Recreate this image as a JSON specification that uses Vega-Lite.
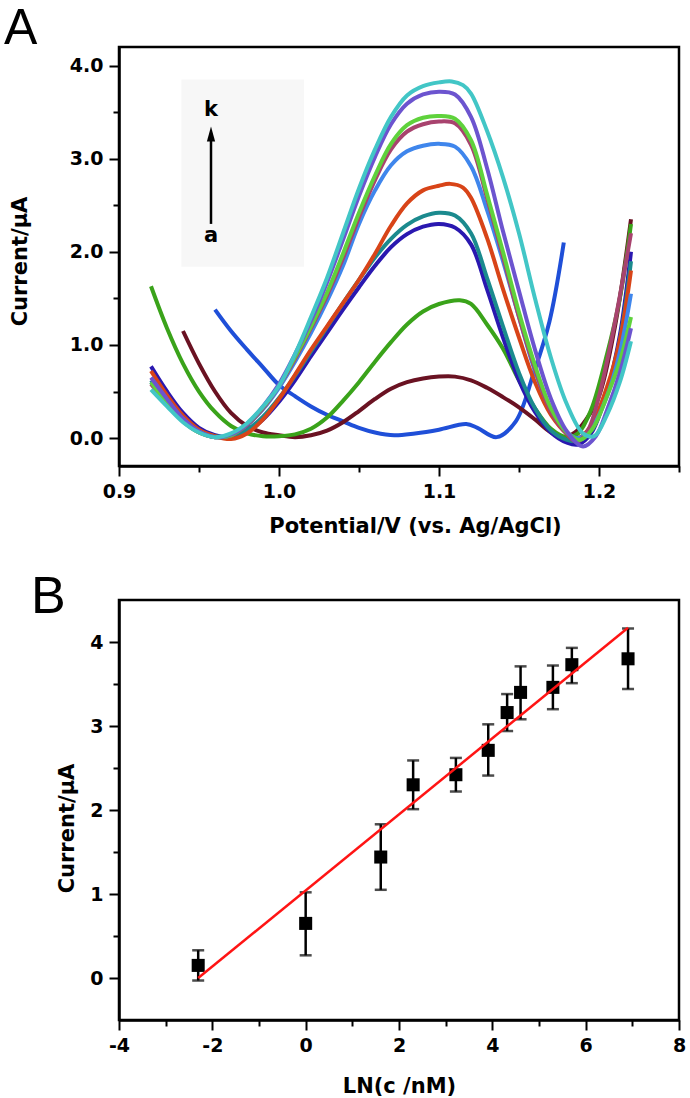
{
  "$schema": "https://vega.github.io/schema/vega-lite/v6.json",
  "background": "white",
  "padding": {"left": 2, "top": 2, "right": 5, "bottom": 5},
  "bounds": "flush",
  "spacing": 134,
  "config": {
    "view": {"stroke": "black", "strokeWidth": 2.5},
    "axis": {
      "domainColor": "black", "domainWidth": 2.5, "tickColor": "black", "tickWidth": 2,
      "labelColor": "black", "titleColor": "black", "labelFont": "DejaVu Sans", "titleFont": "DejaVu Sans",
      "labelFontWeight": "bold", "titleFontWeight": "bold", "labelFontSize": 19, "titleFontSize": 21,
      "grid": false, "labelFlush": false, "labelOverlap": false, "labelBound": false
    }
  },
  "datasets": {
    "curves": [
      {"curve":"a","E":0.96,"I":1.38},{"curve":"a","E":0.97,"I":1.15},{"curve":"a","E":0.98,"I":0.95},{"curve":"a","E":0.99,"I":0.76},{"curve":"a","E":1.0,"I":0.57},{"curve":"a","E":1.01,"I":0.45},{"curve":"a","E":1.02,"I":0.34},{"curve":"a","E":1.03,"I":0.25},{"curve":"a","E":1.04,"I":0.18},{"curve":"a","E":1.05,"I":0.11},{"curve":"a","E":1.06,"I":0.06},{"curve":"a","E":1.072,"I":0.03},{"curve":"a","E":1.085,"I":0.05},{"curve":"a","E":1.1,"I":0.09},{"curve":"a","E":1.117,"I":0.15},{"curve":"a","E":1.124,"I":0.11},{"curve":"a","E":1.136,"I":0.01},{"curve":"a","E":1.148,"I":0.18},{"curve":"a","E":1.159,"I":0.69},{"curve":"a","E":1.169,"I":1.25},{"curve":"a","E":1.178,"I":2.1},
      {"curve":"b","E":0.94,"I":1.15},{"curve":"b","E":0.95,"I":0.8},{"curve":"b","E":0.96,"I":0.5},{"curve":"b","E":0.97,"I":0.27},{"curve":"b","E":0.98,"I":0.13},{"curve":"b","E":0.99,"I":0.06},{"curve":"b","E":1.0,"I":0.03},{"curve":"b","E":1.01,"I":0.01},{"curve":"b","E":1.02,"I":0.03},{"curve":"b","E":1.03,"I":0.08},{"curve":"b","E":1.04,"I":0.17},{"curve":"b","E":1.05,"I":0.29},{"curve":"b","E":1.06,"I":0.42},{"curve":"b","E":1.07,"I":0.53},{"curve":"b","E":1.08,"I":0.6},{"curve":"b","E":1.09,"I":0.64},{"curve":"b","E":1.1,"I":0.66},{"curve":"b","E":1.11,"I":0.66},{"curve":"b","E":1.12,"I":0.62},{"curve":"b","E":1.13,"I":0.54},{"curve":"b","E":1.14,"I":0.44},{"curve":"b","E":1.15,"I":0.33},{"curve":"b","E":1.16,"I":0.2},{"curve":"b","E":1.17,"I":0.06},{"curve":"b","E":1.177,"I":0.01},{"curve":"b","E":1.185,"I":0.06},{"curve":"b","E":1.192,"I":0.2},{"curve":"b","E":1.2,"I":0.45},{"curve":"b","E":1.21,"I":1.2},{"curve":"b","E":1.22,"I":2.35},
      {"curve":"c","E":0.92,"I":1.63},{"curve":"c","E":0.93,"I":1.18},{"curve":"c","E":0.94,"I":0.8},{"curve":"c","E":0.95,"I":0.5},{"curve":"c","E":0.96,"I":0.28},{"curve":"c","E":0.97,"I":0.13},{"curve":"c","E":0.98,"I":0.05},{"curve":"c","E":0.99,"I":0.02},{"curve":"c","E":1.0,"I":0.02},{"curve":"c","E":1.01,"I":0.04},{"curve":"c","E":1.02,"I":0.1},{"curve":"c","E":1.03,"I":0.22},{"curve":"c","E":1.04,"I":0.4},{"curve":"c","E":1.05,"I":0.6},{"curve":"c","E":1.06,"I":0.82},{"curve":"c","E":1.07,"I":1.03},{"curve":"c","E":1.08,"I":1.22},{"curve":"c","E":1.09,"I":1.36},{"curve":"c","E":1.1,"I":1.44},{"curve":"c","E":1.113,"I":1.48},{"curve":"c","E":1.12,"I":1.44},{"curve":"c","E":1.13,"I":1.22},{"curve":"c","E":1.14,"I":0.96},{"curve":"c","E":1.15,"I":0.62},{"curve":"c","E":1.16,"I":0.32},{"curve":"c","E":1.17,"I":0.1},{"curve":"c","E":1.18,"I":0.01},{"curve":"c","E":1.187,"I":0.05},{"curve":"c","E":1.195,"I":0.3},{"curve":"c","E":1.205,"I":0.9},{"curve":"c","E":1.213,"I":1.5},{"curve":"c","E":1.22,"I":2.3},
      {"curve":"d","E":0.92,"I":0.77},{"curve":"d","E":0.93,"I":0.5},{"curve":"d","E":0.94,"I":0.27},{"curve":"d","E":0.95,"I":0.11},{"curve":"d","E":0.96,"I":0.03},{"curve":"d","E":0.97,"I":0.01},{"curve":"d","E":0.98,"I":0.07},{"curve":"d","E":0.99,"I":0.2},{"curve":"d","E":1.0,"I":0.39},{"curve":"d","E":1.01,"I":0.62},{"curve":"d","E":1.02,"I":0.88},{"curve":"d","E":1.03,"I":1.13},{"curve":"d","E":1.04,"I":1.38},{"curve":"d","E":1.05,"I":1.62},{"curve":"d","E":1.06,"I":1.85},{"curve":"d","E":1.07,"I":2.05},{"curve":"d","E":1.08,"I":2.19},{"curve":"d","E":1.09,"I":2.27},{"curve":"d","E":1.1,"I":2.3},{"curve":"d","E":1.11,"I":2.26},{"curve":"d","E":1.12,"I":2.08},{"curve":"d","E":1.13,"I":1.6},{"curve":"d","E":1.14,"I":1.08},{"curve":"d","E":1.15,"I":0.62},{"curve":"d","E":1.16,"I":0.28},{"curve":"d","E":1.17,"I":0.06},{"curve":"d","E":1.18,"I":-0.05},{"curve":"d","E":1.187,"I":-0.07},{"curve":"d","E":1.195,"I":0.05},{"curve":"d","E":1.205,"I":0.5},{"curve":"d","E":1.213,"I":1.1},{"curve":"d","E":1.22,"I":2.0},
      {"curve":"e","E":0.92,"I":0.62},{"curve":"e","E":0.93,"I":0.4},{"curve":"e","E":0.94,"I":0.21},{"curve":"e","E":0.95,"I":0.08},{"curve":"e","E":0.96,"I":0.02},{"curve":"e","E":0.97,"I":0.02},{"curve":"e","E":0.98,"I":0.09},{"curve":"e","E":0.99,"I":0.23},{"curve":"e","E":1.0,"I":0.43},{"curve":"e","E":1.01,"I":0.67},{"curve":"e","E":1.02,"I":0.93},{"curve":"e","E":1.03,"I":1.19},{"curve":"e","E":1.04,"I":1.45},{"curve":"e","E":1.05,"I":1.7},{"curve":"e","E":1.06,"I":1.94},{"curve":"e","E":1.07,"I":2.14},{"curve":"e","E":1.08,"I":2.29},{"curve":"e","E":1.09,"I":2.38},{"curve":"e","E":1.1,"I":2.42},{"curve":"e","E":1.11,"I":2.39},{"curve":"e","E":1.12,"I":2.2},{"curve":"e","E":1.13,"I":1.72},{"curve":"e","E":1.14,"I":1.2},{"curve":"e","E":1.15,"I":0.7},{"curve":"e","E":1.16,"I":0.32},{"curve":"e","E":1.17,"I":0.08},{"curve":"e","E":1.18,"I":-0.02},{"curve":"e","E":1.187,"I":-0.03},{"curve":"e","E":1.195,"I":0.1},{"curve":"e","E":1.205,"I":0.5},{"curve":"e","E":1.213,"I":1.05},{"curve":"e","E":1.22,"I":1.9},
      {"curve":"f","E":0.92,"I":0.72},{"curve":"f","E":0.93,"I":0.46},{"curve":"f","E":0.94,"I":0.24},{"curve":"f","E":0.95,"I":0.09},{"curve":"f","E":0.96,"I":0.02},{"curve":"f","E":0.97,"I":-0.01},{"curve":"f","E":0.98,"I":0.05},{"curve":"f","E":0.99,"I":0.2},{"curve":"f","E":1.0,"I":0.42},{"curve":"f","E":1.01,"I":0.68},{"curve":"f","E":1.02,"I":0.95},{"curve":"f","E":1.03,"I":1.2},{"curve":"f","E":1.04,"I":1.45},{"curve":"f","E":1.05,"I":1.7},{"curve":"f","E":1.06,"I":1.98},{"curve":"f","E":1.07,"I":2.28},{"curve":"f","E":1.08,"I":2.52},{"curve":"f","E":1.09,"I":2.66},{"curve":"f","E":1.1,"I":2.71},{"curve":"f","E":1.107,"I":2.73},{"curve":"f","E":1.115,"I":2.69},{"curve":"f","E":1.12,"I":2.58},{"curve":"f","E":1.13,"I":2.15},{"curve":"f","E":1.14,"I":1.6},{"curve":"f","E":1.15,"I":1.08},{"curve":"f","E":1.16,"I":0.6},{"curve":"f","E":1.17,"I":0.25},{"curve":"f","E":1.18,"I":0.05},{"curve":"f","E":1.187,"I":0.0},{"curve":"f","E":1.195,"I":0.13},{"curve":"f","E":1.205,"I":0.55},{"curve":"f","E":1.213,"I":1.05},{"curve":"f","E":1.22,"I":1.8},
      {"curve":"g","E":0.92,"I":0.6},{"curve":"g","E":0.93,"I":0.38},{"curve":"g","E":0.94,"I":0.19},{"curve":"g","E":0.95,"I":0.07},{"curve":"g","E":0.96,"I":0.01},{"curve":"g","E":0.97,"I":0.03},{"curve":"g","E":0.98,"I":0.14},{"curve":"g","E":0.99,"I":0.31},{"curve":"g","E":1.0,"I":0.54},{"curve":"g","E":1.01,"I":0.82},{"curve":"g","E":1.02,"I":1.13},{"curve":"g","E":1.03,"I":1.47},{"curve":"g","E":1.04,"I":1.85},{"curve":"g","E":1.05,"I":2.3},{"curve":"g","E":1.06,"I":2.66},{"curve":"g","E":1.07,"I":2.93},{"curve":"g","E":1.08,"I":3.08},{"curve":"g","E":1.09,"I":3.14},{"curve":"g","E":1.1,"I":3.16},{"curve":"g","E":1.11,"I":3.13},{"curve":"g","E":1.12,"I":2.92},{"curve":"g","E":1.13,"I":2.45},{"curve":"g","E":1.14,"I":1.9},{"curve":"g","E":1.15,"I":1.3},{"curve":"g","E":1.16,"I":0.72},{"curve":"g","E":1.17,"I":0.3},{"curve":"g","E":1.18,"I":0.06},{"curve":"g","E":1.187,"I":0.0},{"curve":"g","E":1.195,"I":0.1},{"curve":"g","E":1.205,"I":0.45},{"curve":"g","E":1.213,"I":0.92},{"curve":"g","E":1.22,"I":1.55},
      {"curve":"h","E":0.92,"I":0.58},{"curve":"h","E":0.93,"I":0.37},{"curve":"h","E":0.94,"I":0.18},{"curve":"h","E":0.95,"I":0.06},{"curve":"h","E":0.96,"I":0.01},{"curve":"h","E":0.97,"I":0.03},{"curve":"h","E":0.98,"I":0.14},{"curve":"h","E":0.99,"I":0.32},{"curve":"h","E":1.0,"I":0.56},{"curve":"h","E":1.01,"I":0.85},{"curve":"h","E":1.02,"I":1.18},{"curve":"h","E":1.03,"I":1.53},{"curve":"h","E":1.04,"I":1.93},{"curve":"h","E":1.05,"I":2.37},{"curve":"h","E":1.06,"I":2.77},{"curve":"h","E":1.07,"I":3.1},{"curve":"h","E":1.08,"I":3.29},{"curve":"h","E":1.09,"I":3.37},{"curve":"h","E":1.1,"I":3.4},{"curve":"h","E":1.11,"I":3.38},{"curve":"h","E":1.12,"I":3.15},{"curve":"h","E":1.13,"I":2.58},{"curve":"h","E":1.14,"I":1.95},{"curve":"h","E":1.15,"I":1.3},{"curve":"h","E":1.16,"I":0.74},{"curve":"h","E":1.17,"I":0.28},{"curve":"h","E":1.18,"I":0.04},{"curve":"h","E":1.186,"I":-0.04},{"curve":"h","E":1.193,"I":0.08},{"curve":"h","E":1.2,"I":0.45},{"curve":"h","E":1.21,"I":1.25},{"curve":"h","E":1.22,"I":2.2},
      {"curve":"i","E":0.92,"I":0.6},{"curve":"i","E":0.93,"I":0.38},{"curve":"i","E":0.94,"I":0.18},{"curve":"i","E":0.95,"I":0.06},{"curve":"i","E":0.96,"I":0.01},{"curve":"i","E":0.97,"I":0.03},{"curve":"i","E":0.98,"I":0.15},{"curve":"i","E":0.99,"I":0.33},{"curve":"i","E":1.0,"I":0.57},{"curve":"i","E":1.01,"I":0.87},{"curve":"i","E":1.02,"I":1.2},{"curve":"i","E":1.03,"I":1.56},{"curve":"i","E":1.04,"I":1.98},{"curve":"i","E":1.05,"I":2.42},{"curve":"i","E":1.06,"I":2.82},{"curve":"i","E":1.07,"I":3.16},{"curve":"i","E":1.08,"I":3.36},{"curve":"i","E":1.09,"I":3.44},{"curve":"i","E":1.1,"I":3.46},{"curve":"i","E":1.11,"I":3.43},{"curve":"i","E":1.12,"I":3.2},{"curve":"i","E":1.13,"I":2.62},{"curve":"i","E":1.14,"I":2.0},{"curve":"i","E":1.15,"I":1.35},{"curve":"i","E":1.16,"I":0.78},{"curve":"i","E":1.17,"I":0.32},{"curve":"i","E":1.18,"I":0.06},{"curve":"i","E":1.188,"I":-0.02},{"curve":"i","E":1.196,"I":0.1},{"curve":"i","E":1.205,"I":0.45},{"curve":"i","E":1.213,"I":0.82},{"curve":"i","E":1.22,"I":1.3},
      {"curve":"j","E":0.92,"I":0.65},{"curve":"j","E":0.93,"I":0.42},{"curve":"j","E":0.94,"I":0.21},{"curve":"j","E":0.95,"I":0.07},{"curve":"j","E":0.96,"I":0.01},{"curve":"j","E":0.97,"I":0.04},{"curve":"j","E":0.98,"I":0.15},{"curve":"j","E":0.99,"I":0.34},{"curve":"j","E":1.0,"I":0.58},{"curve":"j","E":1.01,"I":0.9},{"curve":"j","E":1.02,"I":1.26},{"curve":"j","E":1.03,"I":1.67},{"curve":"j","E":1.04,"I":2.13},{"curve":"j","E":1.05,"I":2.6},{"curve":"j","E":1.06,"I":3.02},{"curve":"j","E":1.07,"I":3.37},{"curve":"j","E":1.08,"I":3.59},{"curve":"j","E":1.09,"I":3.69},{"curve":"j","E":1.1,"I":3.72},{"curve":"j","E":1.11,"I":3.69},{"curve":"j","E":1.12,"I":3.45},{"curve":"j","E":1.13,"I":2.9},{"curve":"j","E":1.14,"I":2.22},{"curve":"j","E":1.15,"I":1.58},{"curve":"j","E":1.16,"I":0.95},{"curve":"j","E":1.17,"I":0.42},{"curve":"j","E":1.18,"I":0.07},{"curve":"j","E":1.19,"I":-0.09},{"curve":"j","E":1.198,"I":0.02},{"curve":"j","E":1.205,"I":0.3},{"curve":"j","E":1.213,"I":0.7},{"curve":"j","E":1.22,"I":1.18},
      {"curve":"k","E":0.92,"I":0.52},{"curve":"k","E":0.93,"I":0.34},{"curve":"k","E":0.94,"I":0.17},{"curve":"k","E":0.95,"I":0.06},{"curve":"k","E":0.96,"I":0.01},{"curve":"k","E":0.97,"I":0.05},{"curve":"k","E":0.98,"I":0.16},{"curve":"k","E":0.99,"I":0.34},{"curve":"k","E":1.0,"I":0.56},{"curve":"k","E":1.01,"I":0.9},{"curve":"k","E":1.02,"I":1.3},{"curve":"k","E":1.03,"I":1.72},{"curve":"k","E":1.04,"I":2.2},{"curve":"k","E":1.05,"I":2.68},{"curve":"k","E":1.06,"I":3.1},{"curve":"k","E":1.07,"I":3.45},{"curve":"k","E":1.08,"I":3.68},{"curve":"k","E":1.09,"I":3.78},{"curve":"k","E":1.1,"I":3.82},{"curve":"k","E":1.108,"I":3.83},{"curve":"k","E":1.115,"I":3.79},{"curve":"k","E":1.12,"I":3.7},{"curve":"k","E":1.13,"I":3.3},{"curve":"k","E":1.14,"I":2.8},{"curve":"k","E":1.15,"I":2.2},{"curve":"k","E":1.16,"I":1.5},{"curve":"k","E":1.17,"I":0.86},{"curve":"k","E":1.18,"I":0.36},{"curve":"k","E":1.19,"I":0.05},{"curve":"k","E":1.197,"I":0.02},{"curve":"k","E":1.205,"I":0.25},{"curve":"k","E":1.213,"I":0.6},{"curve":"k","E":1.22,"I":1.04}
    ],
    "points": [
      {"ln":-2.303,"I":0.15,"lo":-0.03,"hi":0.33},
      {"ln":0,"I":0.65,"lo":0.27,"hi":1.02},
      {"ln":1.609,"I":1.44,"lo":1.05,"hi":1.83},
      {"ln":2.303,"I":2.3,"lo":2.01,"hi":2.59},
      {"ln":3.219,"I":2.42,"lo":2.22,"hi":2.62},
      {"ln":3.912,"I":2.71,"lo":2.41,"hi":3.02},
      {"ln":4.317,"I":3.16,"lo":2.94,"hi":3.38},
      {"ln":4.605,"I":3.4,"lo":3.08,"hi":3.71},
      {"ln":5.298,"I":3.46,"lo":3.2,"hi":3.72},
      {"ln":5.704,"I":3.73,"lo":3.51,"hi":3.93},
      {"ln":6.908,"I":3.8,"lo":3.44,"hi":4.16}
    ],
    "fit": [
      {"ln":-2.303,"I":0.0},
      {"ln":6.908,"I":4.17}
    ]
  },
  "vconcat": [
    {
      "width": 560,
      "height": 419,
      "title": {"text": "A", "anchor": "start", "frame": "group", "font": "Liberation Sans", "fontSize": 50, "fontWeight": "normal", "color": "black", "baseline": "alphabetic", "dx": -115, "offset": -47},
      "layer": [
        {
          "data": {"name": "curves"},
          "mark": {"type": "line", "strokeWidth": 4, "interpolate": "catmull-rom", "clip": true},
          "encoding": {
            "x": {"field": "E", "type": "quantitative", "scale": {"domain": [0.9, 1.25], "nice": false, "zero": false},
              "axis": {"title": "Potential/V (vs. Ag/AgCl)", "values": [0.9, 0.95, 1.0, 1.05, 1.1, 1.15, 1.2, 1.25],
                "labelExpr": "abs(datum.value*10 - round(datum.value*10)) > 0.2 ? '' : format(datum.value, '.1f')",
                "tickSize": {"condition": {"test": "abs(datum.value*10 - round(datum.value*10)) > 0.2", "value": 6}, "value": 10},
                "labelPadding": 6, "titleX": 296, "titleY": 60, "titleBaseline": "middle"}},
            "y": {"field": "I", "type": "quantitative", "scale": {"domain": [-0.3, 4.2], "nice": false, "zero": false},
              "axis": {"title": "Current/μA", "values": [0, 0.5, 1, 1.5, 2, 2.5, 3, 3.5, 4],
                "labelExpr": "datum.value % 1 !== 0 ? '' : format(datum.value, '.1f')",
                "tickSize": {"condition": {"test": "datum.value % 1 !== 0", "value": 6}, "value": 10},
                "labelPadding": 6, "titleX": -99, "titleY": 214, "titleBaseline": "middle"}},
            "color": {"field": "curve", "type": "nominal", "legend": null,
              "scale": {"domain": ["a","b","c","d","e","f","g","h","i","j","k"],
                "range": ["#1f4fd8","#6a1222","#3aa31a","#2a18b0","#1b8a8e","#d84418","#3f86ec","#a8436e","#5fd23c","#6c54cf","#42c6c6"]}}
          }
        },
        {
          "data": {"values": [{"x1": 0.939, "x2": 1.0156, "y1": 1.84, "y2": 3.85}]},
          "mark": {"type": "rect", "color": "#f7f7f7"},
          "encoding": {
            "x": {"field": "x1", "type": "quantitative"},
            "x2": {"field": "x2"},
            "y": {"field": "y1", "type": "quantitative"},
            "y2": {"field": "y2"}
          }
        },
        {
          "data": {"values": [{"x": 0.9575, "y1": 2.3, "y2": 3.2}]},
          "mark": {"type": "rule", "color": "black", "strokeWidth": 2.5},
          "encoding": {
            "x": {"field": "x", "type": "quantitative"},
            "y": {"field": "y1", "type": "quantitative"},
            "y2": {"field": "y2"}
          }
        },
        {
          "data": {"values": [{"x": 0.9575, "y": 3.265}]},
          "mark": {"type": "point", "shape": "M0,-1L0.55,1L-0.55,1Z", "filled": true, "color": "black", "size": 225, "opacity": 1},
          "encoding": {
            "x": {"field": "x", "type": "quantitative"},
            "y": {"field": "y", "type": "quantitative"}
          }
        },
        {
          "data": {"values": [{"t": "k", "x": 0.9575, "y": 3.52}, {"t": "a", "x": 0.9575, "y": 2.17}]},
          "mark": {"type": "text", "font": "DejaVu Sans", "fontWeight": "bold", "fontSize": 21, "color": "black", "align": "center", "baseline": "middle"},
          "encoding": {
            "x": {"field": "x", "type": "quantitative"},
            "y": {"field": "y", "type": "quantitative"},
            "text": {"field": "t"}
          }
        }
      ]
    },
    {
      "width": 560,
      "height": 420,
      "title": {"text": "B", "anchor": "start", "frame": "group", "font": "Liberation Sans", "fontSize": 52, "fontWeight": "normal", "color": "black", "baseline": "alphabetic", "dx": -88, "offset": -65},
      "layer": [
        {
          "data": {"name": "points"},
          "mark": {"type": "rule", "color": "black", "strokeWidth": 2.5},
          "encoding": {
            "x": {"field": "ln", "type": "quantitative", "scale": {"domain": [-4, 8], "nice": false, "zero": false},
              "axis": {"title": "LN(c /nM)", "values": [-4,-3,-2,-1,0,1,2,3,4,5,6,7,8],
                "labelExpr": "datum.value % 2 !== 0 ? '' : datum.value + ''",
                "tickSize": {"condition": {"test": "datum.value % 2 !== 0", "value": 6}, "value": 10},
                "labelPadding": 6, "titleY": 66, "titleBaseline": "middle"}},
            "y": {"field": "lo", "type": "quantitative", "scale": {"domain": [-0.5, 4.5], "nice": false, "zero": false},
              "axis": {"title": "Current/μA", "values": [0, 0.5, 1, 1.5, 2, 2.5, 3, 3.5, 4],
                "labelExpr": "datum.value % 1 !== 0 ? '' : datum.value + ''",
                "tickSize": {"condition": {"test": "datum.value % 1 !== 0", "value": 6}, "value": 10},
                "labelPadding": 6, "titleX": -52, "titleY": 228, "titleBaseline": "middle"}},
            "y2": {"field": "hi"}
          }
        },
        {
          "data": {"name": "points"},
          "mark": {"type": "tick", "orient": "horizontal", "color": "black", "thickness": 2.5, "size": 12},
          "encoding": {
            "x": {"field": "ln", "type": "quantitative"},
            "y": {"field": "lo", "type": "quantitative"}
          }
        },
        {
          "data": {"name": "points"},
          "mark": {"type": "tick", "orient": "horizontal", "color": "black", "thickness": 2.5, "size": 12},
          "encoding": {
            "x": {"field": "ln", "type": "quantitative"},
            "y": {"field": "hi", "type": "quantitative"}
          }
        },
        {
          "data": {"name": "points"},
          "mark": {"type": "point", "shape": "square", "filled": true, "color": "black", "size": 170, "opacity": 1},
          "encoding": {
            "x": {"field": "ln", "type": "quantitative"},
            "y": {"field": "I", "type": "quantitative"}
          }
        },
        {
          "data": {"name": "fit"},
          "mark": {"type": "line", "color": "#ff1414", "strokeWidth": 2.5},
          "encoding": {
            "x": {"field": "ln", "type": "quantitative"},
            "y": {"field": "I", "type": "quantitative"}
          }
        }
      ]
    }
  ]
}
